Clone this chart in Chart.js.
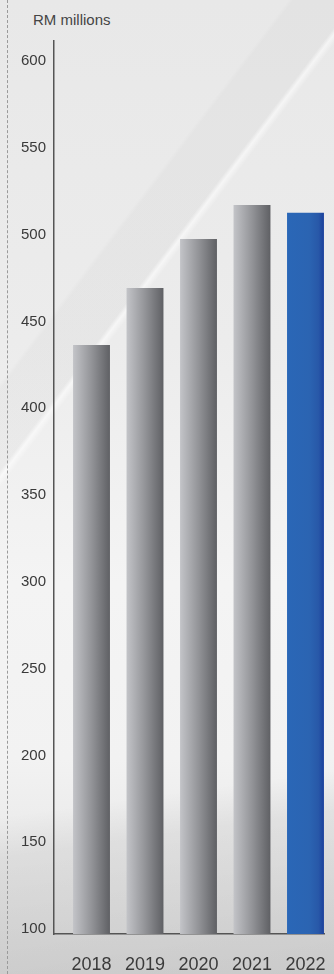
<!DOCTYPE html>
<html>
<head>
<meta charset="utf-8">
<script src="https://cdn.jsdelivr.net/npm/chart.js@4"></script>
<style>
  html, body { margin: 0; padding: 0; }
  body {
    width: 334px;
    height: 974px;
    position: relative;
    overflow: hidden;
    font-family: "Liberation Sans", Arial, sans-serif;
    background:
      linear-gradient(127deg, rgba(255,255,255,0) 0%, rgba(255,255,255,0) 27%, rgba(0,0,0,0.025) 27.5%, rgba(0,0,0,0.025) 33.2%, rgba(255,255,255,0.55) 33.7%, rgba(255,255,255,0) 34.4%, rgba(255,255,255,0) 100%),
      linear-gradient(172deg, rgba(0,0,0,0) 0%, rgba(0,0,0,0) 80%, rgba(0,0,0,0.05) 84%, rgba(0,0,0,0.09) 100%),
      linear-gradient(180deg, #e8e8e8 0%, #ececec 35%, #f4f4f4 60%, #f2f2f2 78%, #dedede 100%);
  }
  .dash {
    position: absolute;
    left: 7px;
    top: 0;
    height: 974px;
    border-left: 1.5px dashed #9a9a9a;
  }
  .unit {
    position: absolute;
    left: 33px;
    top: 11px;
    font-size: 15px;
    color: #454545;
  }
  #wrap { position: absolute; left: 0; top: 0; width: 334px; height: 974px; }
</style>
</head>
<body>
<div class="dash"></div>
<div class="unit">RM millions</div>
<div id="wrap"><canvas id="chart"></canvas></div>
<script>
const years = ['2018', '2019', '2020', '2021', '2022'];
const revenue = [436.4, 469.2, 497.5, 517.1, 512.6];
const yTickValues = [100, 150, 200, 250, 300, 350, 400, 450, 500, 550, 600];

const yearNums = years.map(Number);
const barPct = 0.69;

// horizontal shading across each bar, built from the x scale
function barFill(ctx) {
  const chart = ctx.chart;
  if (!chart.chartArea || ctx.dataIndex === undefined) return '#8a8b8f';
  const xs = chart.scales.x;
  const unit = Math.abs(xs.getPixelForValue(yearNums[1]) - xs.getPixelForValue(yearNums[0]));
  const cx = xs.getPixelForValue(yearNums[ctx.dataIndex]);
  const half = unit * barPct / 2;
  const g = chart.ctx.createLinearGradient(cx - half, 0, cx + half, 0);
  if (ctx.dataIndex === years.length - 1) {
    g.addColorStop(0, '#2a67b7');
    g.addColorStop(0.6, '#2b64b2');
    g.addColorStop(0.85, '#2858a8');
    g.addColorStop(1, '#1a409c');
  } else {
    g.addColorStop(0, '#c3c4c8');
    g.addColorStop(0.5, '#939498');
    g.addColorStop(1, '#5f6064');
  }
  return g;
}

new Chart(document.getElementById('chart'), {
  type: 'bar',
  data: {
    datasets: [{
      data: revenue.map((v, i) => ({ x: yearNums[i], y: v })),
      backgroundColor: barFill,
      borderWidth: 0,
      barPercentage: barPct,
      categoryPercentage: 1
    }]
  },
  options: {
    responsive: true,
    maintainAspectRatio: false,
    animation: false,
    layout: { autoPadding: false, padding: { top: 41, right: 10, left: 0, bottom: 0 } },
    plugins: { legend: { display: false }, tooltip: { enabled: false } },
    scales: {
      x: {
        type: 'linear',
        offset: false,
        min: 2017.299,
        max: 2022.346,
        grid: { display: false, drawTicks: false },
        border: { color: '#555', width: 1.5 },
        afterBuildTicks: (s) => { s.ticks = yearNums.map(v => ({ value: v })); },
        afterFit: (s) => { s.height = 40; s.paddingLeft = 0; s.paddingRight = 0; },
        ticks: {
          autoSkip: false,
          maxRotation: 0,
          padding: 20,
          color: '#3a3a3a',
          font: { family: 'Liberation Sans', size: 18 },
          callback: (v) => years[yearNums.indexOf(v)]
        }
      },
      y: {
        min: 97.1,
        max: 611.5,
        grid: { display: false, drawTicks: false },
        border: { color: '#555', width: 1.5 },
        afterBuildTicks: (s) => { s.ticks = yTickValues.map(v => ({ value: v })); },
        afterFit: (s) => { s.width = 54; s.paddingTop = 0; s.paddingBottom = 0; },
        ticks: {
          padding: 8,
          color: '#3a3a3a',
          font: { family: 'Liberation Sans', size: 15 }
        }
      }
    }
  }
});
</script>
</body>
</html>
